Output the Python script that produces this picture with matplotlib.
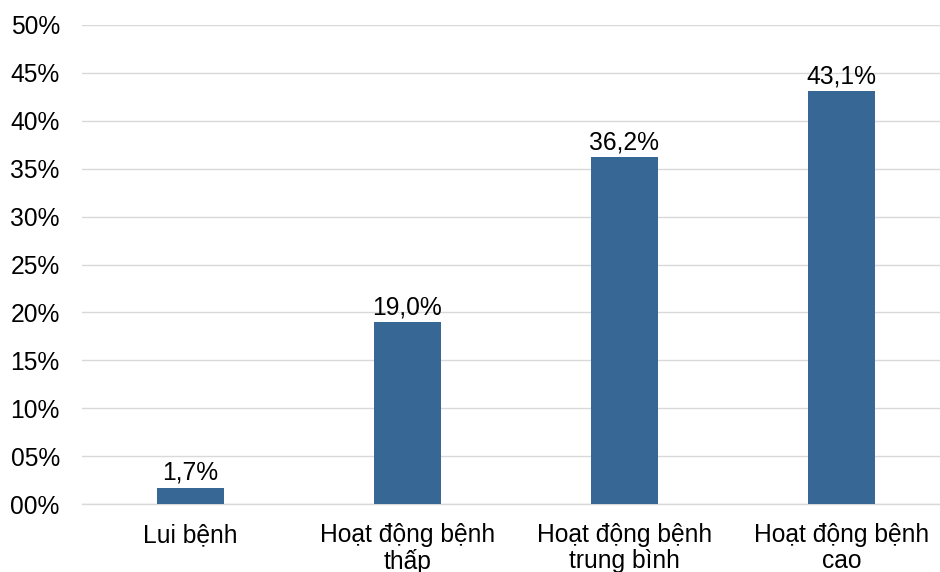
import matplotlib
matplotlib.use("Agg")
import matplotlib.pyplot as plt
from matplotlib.ticker import FuncFormatter

categories = ["Lui bệnh", "Hoạt động bệnh\nthấp", "Hoạt động bệnh\ntrung bình", "Hoạt động bệnh\ncao"]
values = [1.7, 19.0, 36.2, 43.1]
value_labels = ["1,7%", "19,0%", "36,2%", "43,1%"]
y_ticks = [0, 5, 10, 15, 20, 25, 30, 35, 40, 45, 50]

plt.rcParams['font.family'] = ['Liberation Sans', 'DejaVu Sans']

fig = plt.figure(figsize=(9.4, 5.72), dpi=100)
W, H = 940, 572
left, right, top, bottom = 82, 950, 25, 504
ax = fig.add_axes([left / W, (H - bottom) / H, (right - left) / W, (bottom - top) / H])

x = list(range(len(categories)))
bars = ax.bar(x, values, width=0.313, color="#376795", zorder=3)
for xi, v, lab in zip(x, values, value_labels):
    ax.annotate(lab, (xi, v), xytext=(0, 2), textcoords="offset points",
                ha="center", va="bottom", fontsize=17.7, color="#000000")

ax.set_xlim(-0.5, 3.5)
ax.set_ylim(0, 50)
ax.set_yticks(y_ticks)
ax.yaxis.set_major_formatter(FuncFormatter(lambda v, p: f"{int(v):02d}%"))
ax.set_xticks(x)
ax.set_xticklabels(categories, fontsize=17.7, linespacing=1.08)
ax.tick_params(axis="y", length=0, pad=16, labelsize=17.7)
ax.tick_params(axis="x", length=0, pad=14)
ax.grid(axis="y", color="#d9d9d9", linewidth=1, zorder=0)
for s in ["top", "right", "left"]:
    ax.spines[s].set_visible(False)
ax.spines["bottom"].set_color("#d9d9d9")
ax.spines["bottom"].set_linewidth(1)

fig.savefig("out.png", dpi=100)
